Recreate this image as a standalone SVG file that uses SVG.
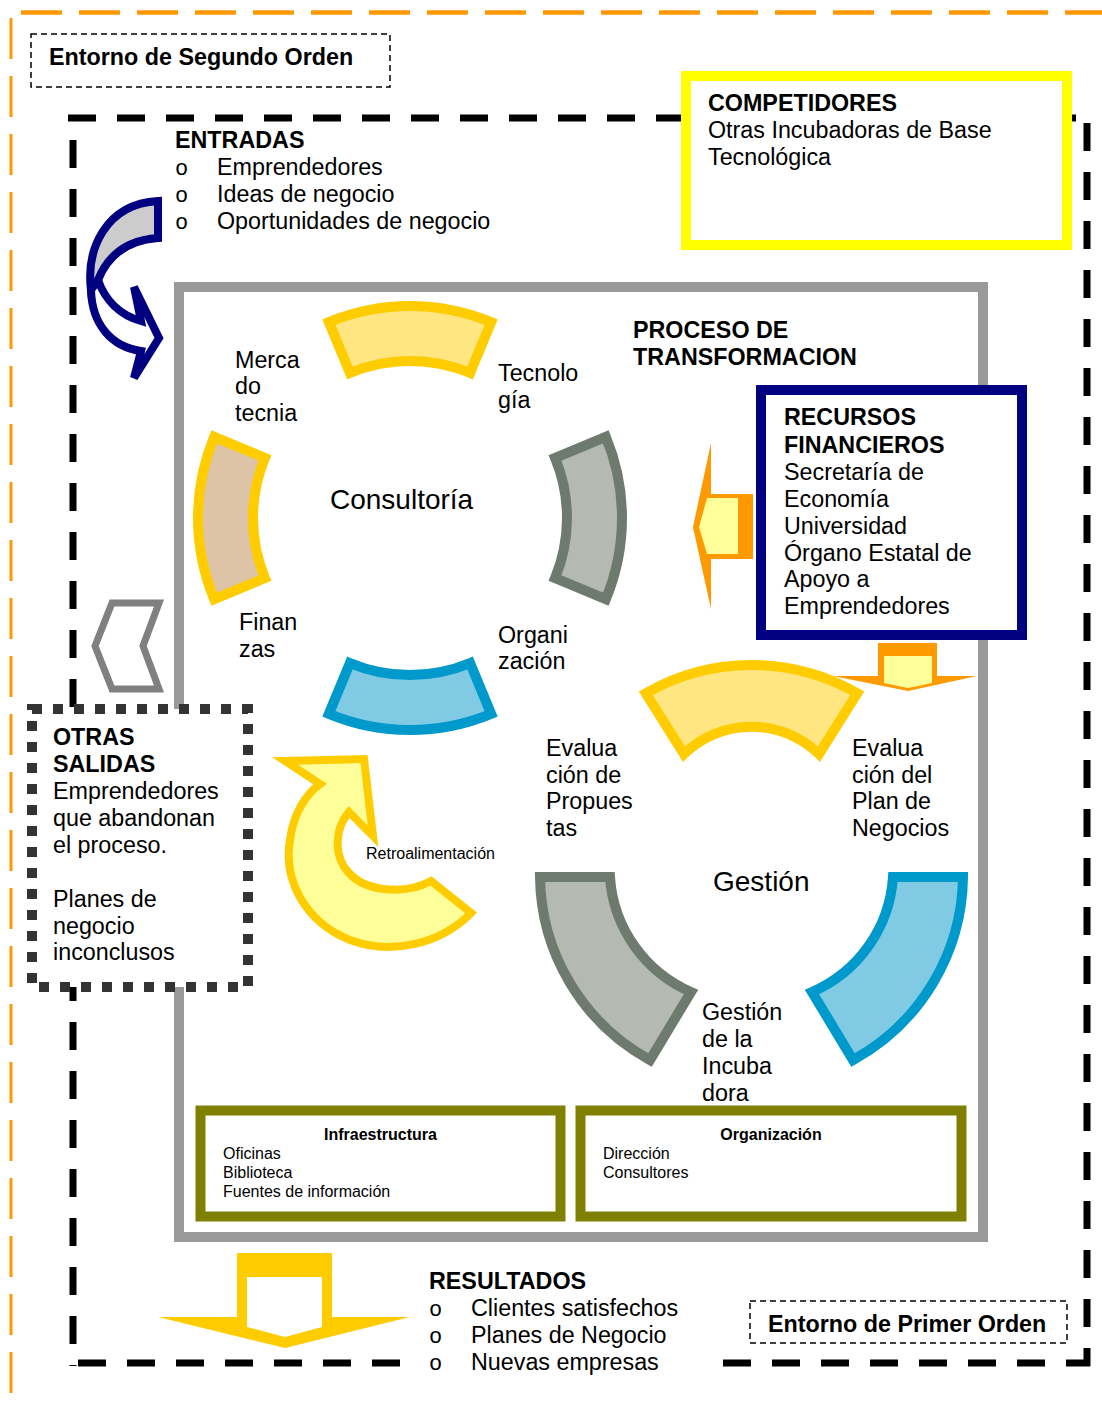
<svg xmlns="http://www.w3.org/2000/svg" width="1102" height="1401" viewBox="0 0 1102 1401">
<style>
text{font-family:"Liberation Sans",Arial,sans-serif;fill:#000}
.t{font-size:23.3px}
.b{font-size:23.3px;font-weight:bold}
.big{font-size:28px}
.s{font-size:16px}
.sb{font-size:16px;font-weight:bold}
.bul{font-family:"Liberation Mono","Courier New",monospace;font-size:22px}
.bd{fill:none;stroke:#000;stroke-width:7;stroke-dasharray:28 21}
.od{fill:none;stroke:#FF9900;stroke-dasharray:41 17}
.tb{fill:#fff;stroke:#000;stroke-width:1.5;stroke-dasharray:6 4}
.yseg{fill:#FFE680;stroke:#FFCC00;stroke-width:10}
.gseg{fill:#B4B9B2;stroke:#6F7A6F;stroke-width:10}
.cseg{fill:#80CBE3;stroke:#0099CC;stroke-width:10}
.tseg{fill:#DEC4A6;stroke:#FFCC00;stroke-width:10}
.ol{fill:#fff;stroke:#808000;stroke-width:10}
</style>

<g id="entorno-segundo">
<line class="od" x1="21" y1="12.5" x2="1102" y2="12.5" stroke-width="4.5"/>
<line class="od" x1="11" y1="18" x2="11" y2="1401" stroke-width="3"/>
<rect class="tb" x="31" y="34" width="359" height="53"/>
<text class="b" x="49" y="65">Entorno de Segundo Orden</text>
</g>

<g id="entorno-primero">
<line class="bd" x1="68" y1="118" x2="1090" y2="118"/>
<line class="bd" x1="73" y1="140" x2="73" y2="1366"/>
<line class="bd" x1="1087" y1="123" x2="1087" y2="1366"/>
<line class="bd" x1="78" y1="1363" x2="406" y2="1363"/>
<line class="bd" x1="723" y1="1363" x2="1090" y2="1363"/>
<rect class="tb" x="750" y="1301" width="317" height="42"/>
<text class="b" x="768" y="1332">Entorno de Primer Orden</text>
</g>

<g id="competidores">
<rect x="686" y="76" width="381" height="169" fill="#fff" stroke="#FFFF00" stroke-width="10"/>
<text class="b" x="708" y="111">COMPETIDORES</text>
<text class="t" x="708" y="138">Otras Incubadoras de Base</text>
<text class="t" x="708" y="165">Tecnológica</text>
</g>

<g id="entradas">
<text class="b" x="175" y="148">ENTRADAS</text>
<text class="bul" x="175" y="175">o</text>
<text class="t" x="217" y="175">Emprendedores</text>
<text class="bul" x="175" y="202">o</text>
<text class="t" x="217" y="202">Ideas de negocio</text>
<text class="bul" x="175" y="229">o</text>
<text class="t" x="217" y="229">Oportunidades de negocio</text>
</g>

<g id="proceso">
<rect x="179" y="287" width="804" height="950" fill="none" stroke="#999999" stroke-width="10"/>
<text class="b" x="633" y="338">PROCESO DE</text>
<text class="b" x="633" y="365">TRANSFORMACION</text>
</g>

<g id="consultoria">
<path class="yseg" d="M328.87,322.14 A212,212 0 0 1 491.13,322.14 L470.08,372.95 A157,157 0 0 0 349.92,372.95 Z"/>
<path class="gseg" d="M605.86,436.87 A212,212 0 0 1 605.86,599.13 L555.05,578.08 A157,157 0 0 0 555.05,457.92 Z"/>
<path class="cseg" d="M491.13,713.86 A212,212 0 0 1 328.87,713.86 L349.92,663.05 A157,157 0 0 0 470.08,663.05 Z"/>
<path class="tseg" d="M214.14,599.13 A212,212 0 0 1 214.14,436.87 L264.95,457.92 A157,157 0 0 0 264.95,578.08 Z"/>
<text class="big" x="330" y="509">Consultoría</text>
<text class="t" x="235" y="368">Merca</text>
<text class="t" x="235" y="394">do</text>
<text class="t" x="235" y="421">tecnia</text>
<text class="t" x="498" y="381">Tecnolo</text>
<text class="t" x="498" y="408">gía</text>
<text class="t" x="239" y="630">Finan</text>
<text class="t" x="239" y="657">zas</text>
<text class="t" x="498" y="643">Organi</text>
<text class="t" x="498" y="669">zación</text>
</g>

<g id="recursos">
<polygon points="693,527 711,443 711,494 753,494 753,559 711,559 711,609" fill="#FF9900"/>
<polygon points="699,527 707,498 738,498 738,554 707,554" fill="#FFFF99"/>
<polygon points="878,643 937,643 937,676 977,676 908,691 833,676 878,676" fill="#FF9900"/>
<polygon points="884,656 932,656 932,683 908,688 884,683" fill="#FFFF99"/>
<rect x="761" y="390" width="261" height="245" fill="#fff" stroke="#000080" stroke-width="10"/>
<text class="b" x="784" y="425">RECURSOS</text>
<text class="b" x="784" y="453">FINANCIEROS</text>
<text class="t" x="784" y="480">Secretaría de</text>
<text class="t" x="784" y="507">Economía</text>
<text class="t" x="784" y="534">Universidad</text>
<text class="t" x="784" y="561">Órgano Estatal de</text>
<text class="t" x="784" y="587">Apoyo a</text>
<text class="t" x="784" y="614">Emprendedores</text>
</g>

<g id="gestion">
<path class="yseg" d="M645.75,693.33 A211.5,211.5 0 0 1 857.25,693.33 L819,754 A97,97 0 0 0 684,754 Z"/>
<path class="gseg" d="M540,877 A211.5,211.5 0 0 0 650,1060 L691,992 A135,135 0 0 1 610,877 Z"/>
<path class="cseg" d="M963,877 A211.5,211.5 0 0 1 853,1060 L812,992 A135,135 0 0 0 893,877 Z"/>
<text class="big" x="713" y="891">Gestión</text>
<text class="t" x="546" y="756">Evalua</text>
<text class="t" x="546" y="783">ción de</text>
<text class="t" x="546" y="809">Propues</text>
<text class="t" x="546" y="836">tas</text>
<text class="t" x="852" y="756">Evalua</text>
<text class="t" x="852" y="783">ción del</text>
<text class="t" x="852" y="809">Plan de</text>
<text class="t" x="852" y="836">Negocios</text>
<text class="t" x="702" y="1020">Gestión</text>
<text class="t" x="702" y="1047">de la</text>
<text class="t" x="702" y="1074">Incuba</text>
<text class="t" x="702" y="1101">dora</text>
</g>

<g id="retroalimentacion">
<path d="M364,759 L373,836 L349,812 C335,828 333,855 348,872 C365,892 405,895 431,881 L471,913 C440,945 390,955 350,940 C305,922 283,880 290,840 C293,815 305,795 320,784 L285,761 Z" fill="#FFFF99" stroke="#FFCC00" stroke-width="8" stroke-linejoin="miter"/>
<text class="s" x="366" y="859">Retroalimentación</text>
</g>

<g id="otras-salidas">
<polygon points="95,646 112,603 159,603 143,646 159,689 112,689" fill="#fff" stroke="#808080" stroke-width="7"/>
<rect x="32" y="709" width="216" height="278" fill="#fff" stroke="#333333" stroke-width="10" stroke-dasharray="10 11"/>
<text class="b" x="53" y="745">OTRAS</text>
<text class="b" x="53" y="772">SALIDAS</text>
<text class="t" x="53" y="799">Emprendedores</text>
<text class="t" x="53" y="826">que abandonan</text>
<text class="t" x="53" y="853">el proceso.</text>
<text class="t" x="53" y="907">Planes de</text>
<text class="t" x="53" y="934">negocio</text>
<text class="t" x="53" y="960">inconclusos</text>
</g>

<g id="infraestructura">
<rect class="ol" x="200.5" y="1110.5" width="360" height="106"/>
<text class="sb" x="380.5" y="1140" text-anchor="middle">Infraestructura</text>
<text class="s" x="223" y="1159">Oficinas</text>
<text class="s" x="223" y="1178">Biblioteca</text>
<text class="s" x="223" y="1197">Fuentes de información</text>
</g>

<g id="organizacion">
<rect class="ol" x="580.5" y="1110.5" width="381" height="106"/>
<text class="sb" x="771" y="1140" text-anchor="middle">Organización</text>
<text class="s" x="603" y="1159">Dirección</text>
<text class="s" x="603" y="1178">Consultores</text>
</g>

<g id="resultados">
<polygon points="237,1253 332,1253 332,1317 410,1317 285,1348 158,1317 237,1317" fill="#FFCC00"/>
<polygon points="247,1277 322,1277 322,1327 285,1337 247,1327" fill="#fff"/>
<text class="b" x="429" y="1289">RESULTADOS</text>
<text class="bul" x="429" y="1316">o</text>
<text class="t" x="471" y="1316">Clientes satisfechos</text>
<text class="bul" x="429" y="1343">o</text>
<text class="t" x="471" y="1343">Planes de Negocio</text>
<text class="bul" x="429" y="1370">o</text>
<text class="t" x="471" y="1370">Nuevas empresas</text>
</g>

<g id="connectors">
<path d="M158,201 L158,238 C128,240 108,255 98,280 L91,290 C86,250 105,204 158,201 Z" fill="#CCCCCC" stroke="#000080" stroke-width="8" stroke-linejoin="miter"/>
<path d="M98,280 C105,300 120,315 141,321 L134,287 L159,338 L134,378 L141,351 C112,347 92,325 91,290 Z" fill="#fff" stroke="#000080" stroke-width="8" stroke-linejoin="miter"/>
</g>
</svg>
